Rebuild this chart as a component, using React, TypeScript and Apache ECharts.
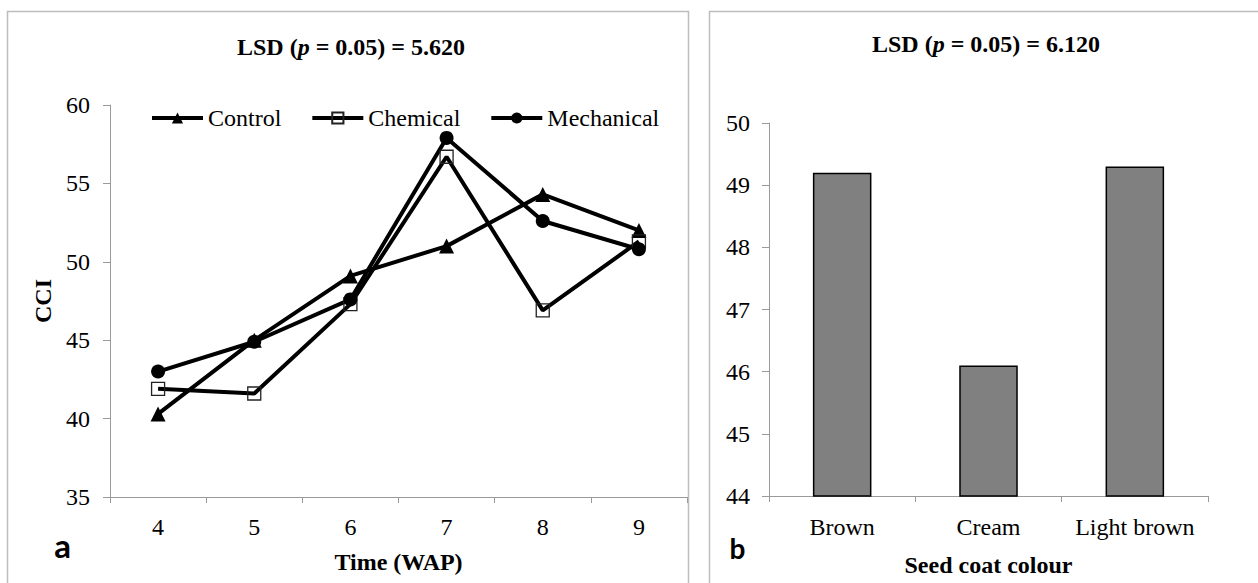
import React, { useEffect, useRef } from 'react';
import * as echarts from 'echarts';

const weeks = ['4', '5', '6', '7', '8', '9'];
const controlCCI = [40.3, 45.0, 49.1, 51.0, 54.3, 52.0];
const chemicalCCI = [41.9, 41.6, 47.3, 56.7, 46.9, 51.3];
const mechanicalCCI = [43.0, 44.9, 47.6, 57.9, 52.6, 50.8];

const coatColours = ['Brown', 'Cream', 'Light brown'];
const coatCCI = [49.2, 46.1, 49.3];

const SERIF = "'Liberation Serif', 'Times New Roman', serif";
const SANS = "Lato, 'Open Sans', sans-serif";
const AXIS_GRAY = '#9a9a9a';
const BORDER_GRAY = '#bdbdbd';

export default function App() {
  const ref = useRef<HTMLDivElement>(null);

  useEffect(() => {
    if (!ref.current) return;
    const chart = echarts.init(ref.current, null, { renderer: 'svg' });

    const labelStyle = { fontFamily: SERIF, fontSize: 24, color: '#000', lineHeight: 24 };
    const nameStyle = { fontFamily: SERIF, fontSize: 24, fontWeight: 'bold' as const, color: '#000', lineHeight: 24 };
    const lineCommon = {
      type: 'line' as const,
      xAxisIndex: 0,
      yAxisIndex: 0,
      lineStyle: { color: '#000', width: 4 },
    };
    const titleRich = {
      b: { fontFamily: SERIF, fontSize: 24, fontWeight: 'bold', fill: '#000' },
      i: { fontFamily: SERIF, fontSize: 24, fontWeight: 'bold', fontStyle: 'italic', fill: '#000' },
    };

    chart.setOption({
      animation: false,
      backgroundColor: '#fff',
      grid: [
        { left: 110, top: 105, width: 577, height: 392 },
        { left: 769, top: 123, width: 439, height: 373 },
      ],
      legend: {
        left: 150,
        top: 106,
        padding: 0,
        itemWidth: 51,
        itemHeight: 14,
        itemGap: 29,
        selectedMode: false,
        lineStyle: { width: 4, color: '#000' },
        textStyle: { fontFamily: SERIF, fontSize: 24, color: '#000', lineHeight: 24 },
        data: ['Control', 'Chemical', 'Mechanical'],
      },
      xAxis: [
        {
          type: 'category',
          gridIndex: 0,
          data: weeks,
          boundaryGap: true,
          axisLine: { lineStyle: { color: AXIS_GRAY, width: 1 } },
          axisTick: { show: true, length: 6, lineStyle: { color: AXIS_GRAY } },
          axisLabel: { ...labelStyle, margin: 18, interval: 0 },
          name: 'Time (WAP)',
          nameLocation: 'middle',
          nameGap: 53,
          nameTextStyle: nameStyle,
        },
        {
          type: 'category',
          gridIndex: 1,
          data: coatColours,
          boundaryGap: true,
          axisLine: { lineStyle: { color: AXIS_GRAY, width: 1 } },
          axisTick: { show: true, length: 6, lineStyle: { color: AXIS_GRAY } },
          axisLabel: { ...labelStyle, margin: 19, interval: 0, hideOverlap: false },
          name: 'Seed coat colour',
          nameLocation: 'middle',
          nameGap: 57,
          nameTextStyle: nameStyle,
        },
      ],
      yAxis: [
        {
          type: 'value',
          gridIndex: 0,
          min: 35,
          max: 60,
          interval: 5,
          axisLine: { show: true, lineStyle: { color: AXIS_GRAY, width: 1 } },
          axisTick: { show: true, length: 7, lineStyle: { color: AXIS_GRAY } },
          splitLine: { show: false },
          axisLabel: { ...labelStyle, margin: 20 },
          name: 'CCI',
          nameLocation: 'middle',
          nameGap: 55,
          nameRotate: 90,
          nameTextStyle: nameStyle,
        },
        {
          type: 'value',
          gridIndex: 1,
          min: 44,
          max: 50,
          interval: 1,
          axisLine: { show: true, lineStyle: { color: AXIS_GRAY, width: 1 } },
          axisTick: { show: true, length: 7, lineStyle: { color: AXIS_GRAY } },
          splitLine: { show: false },
          axisLabel: { ...labelStyle, margin: 19 },
        },
      ],
      series: [
        {
          ...lineCommon,
          name: 'Control',
          data: controlCCI,
          symbol: 'triangle',
          symbolSize: 15,
          color: '#000',
          itemStyle: { color: '#000' },
        },
        {
          ...lineCommon,
          name: 'Chemical',
          data: chemicalCCI,
          symbol: 'rect',
          symbolSize: 13,
          color: '#000',
          itemStyle: { color: 'rgba(255,255,255,0)', borderColor: '#222', borderWidth: 1.3 },
        },
        {
          ...lineCommon,
          name: 'Mechanical',
          data: mechanicalCCI,
          symbol: 'circle',
          symbolSize: 14,
          color: '#000',
          itemStyle: { color: '#000' },
        },
        {
          type: 'bar',
          xAxisIndex: 1,
          yAxisIndex: 1,
          data: coatCCI,
          barWidth: '40%',
          itemStyle: { color: '#808080', borderColor: '#000', borderWidth: 1.5 },
        },
      ],
      graphic: [
        {
          type: 'rect',
          shape: { x: 7.5, y: 11.5, width: 681, height: 620 },
          style: { fill: 'none', stroke: BORDER_GRAY, lineWidth: 1.5 },
          silent: true,
        },
        {
          type: 'rect',
          shape: { x: 709.5, y: 11.5, width: 620, height: 620 },
          style: { fill: 'none', stroke: BORDER_GRAY, lineWidth: 1.5 },
          silent: true,
        },
        {
          type: 'text',
          x: 351,
          y: 47,
          style: {
            text: '{b|LSD (}{i|p}{b| = 0.05) = 5.620}',
            align: 'center',
            verticalAlign: 'middle',
            rich: titleRich,
          },
        },
        {
          type: 'text',
          x: 986,
          y: 44,
          style: {
            text: '{b|LSD (}{i|p}{b| = 0.05) = 6.120}',
            align: 'center',
            verticalAlign: 'middle',
            rich: titleRich,
          },
        },
        {
          type: 'text',
          x: 62.5,
          y: 545,
          style: {
            text: 'a',
            fontFamily: SANS,
            fontWeight: 'bold',
            fontSize: 33,
            fill: '#000',
            align: 'center',
            verticalAlign: 'middle',
          },
        },
        {
          type: 'text',
          x: 737.5,
          y: 548,
          style: {
            text: 'b',
            fontFamily: SANS,
            fontWeight: 'bold',
            fontSize: 28,
            fill: '#000',
            align: 'center',
            verticalAlign: 'middle',
          },
        },
      ],
    });

    return () => chart.dispose();
  }, []);

  return (
    <div
      ref={ref}
      style={{ position: 'fixed', left: 0, top: 0, width: 1258, height: 583, background: '#fff' }}
    />
  );
}
